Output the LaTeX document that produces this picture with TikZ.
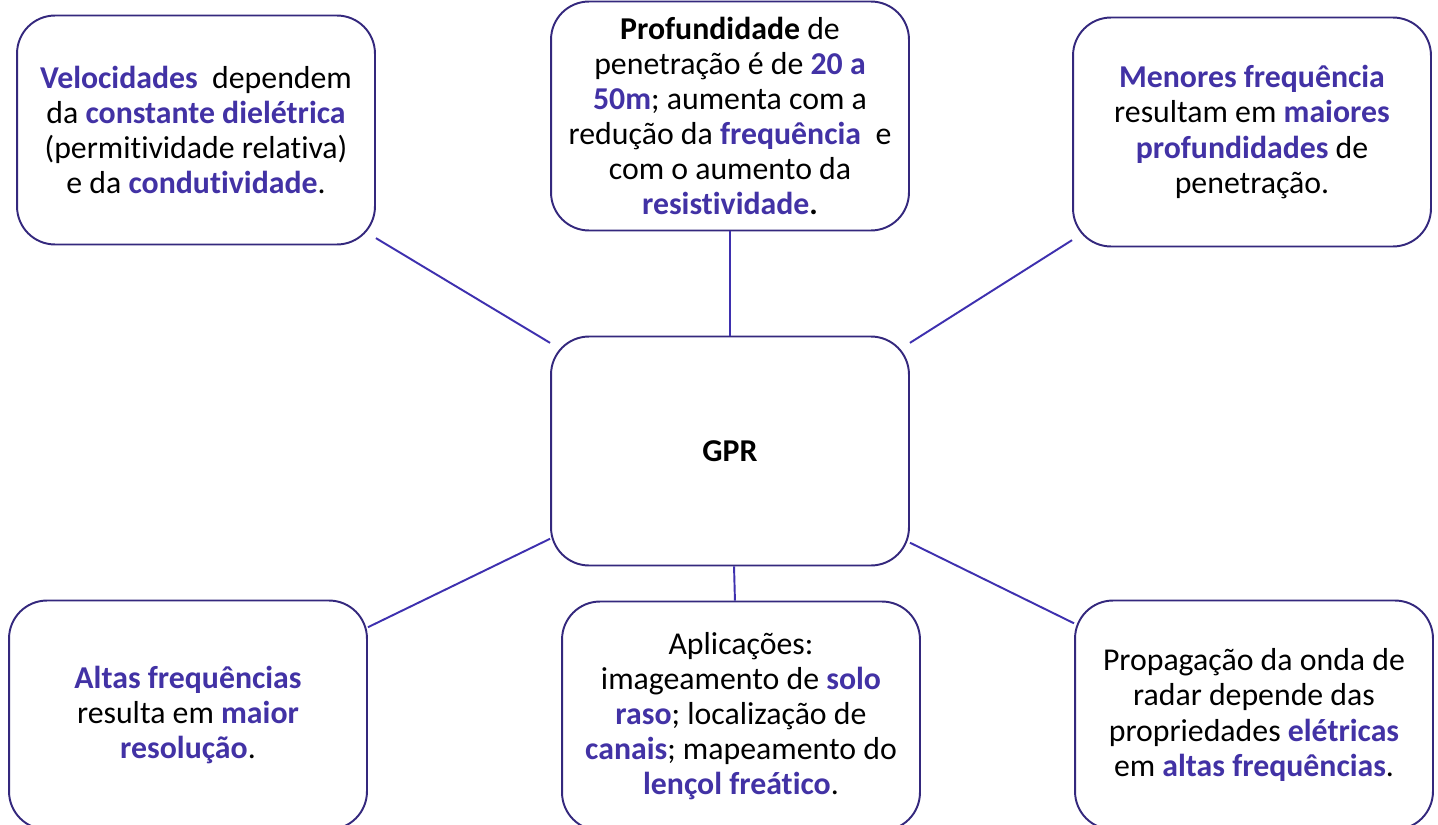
\documentclass[tikz,border=0pt]{standalone}
\usepackage{fontspec}
\setmainfont{Carlito}[Ligatures=NoCommon]
\usetikzlibrary{positioning}

\definecolor{gprpurple}{RGB}{66,50,165}
\definecolor{gprborder}{RGB}{52,40,125}
\definecolor{gprline}{RGB}{62,48,175}
\newcommand{\hlt}[1]{\textbf{\textcolor{gprpurple}{#1}}}

\begin{document}
\begin{tikzpicture}[
  x=0.02cm, y=-0.02cm,
  info/.style={draw=gprborder, line width=1.1pt, rounded corners=0.76cm, fill=white, minimum width=7.16cm, minimum height=4.58cm, align=center, font=\fontsize{18.1}{20}\selectfont},
  hub/.style={info, font=\fontsize{18.1}{20}\selectfont\bfseries},
  link/.style={draw=gprline, line width=1.1pt},
]
\useasboundingbox[fill=white] (0,0) rectangle (1438,825);

% Central node
\node[hub] (gpr) at (730,451) {GPR};

% Top row
\node[info] (vel)  at (196,130)  {\hlt{Velocidades}~ dependem\\da \hlt{constante dielétrica}\\(permitividade relativa)\\e da \hlt{condutividade}.};
\node[info] (prof) at (730,116)  {\textbf{Profundidade} de\\penetração é de \hlt{20 a}\\\hlt{50m}; aumenta com a\\redução da \hlt{frequência}~ e\\com o aumento da\\\hlt{resistividade}\textbf{.}};
\node[info] (menf) at (1252,132) {\hlt{Menores frequência}\\resultam em \hlt{maiores}\\\hlt{profundidades} de\\penetração.};

% Bottom row
\node[info] (altf) at (188,715)  {\hlt{Altas frequências}\\resulta em \hlt{maior}\\\hlt{resolução}.};
\node[info] (apl)  at (741,716)  {Aplicações:\\imageamento de \hlt{solo}\\\hlt{raso}; localização de\\\hlt{canais}; mapeamento do\\\hlt{lençol freático}.};
\node[info] (prop) at (1254,715) {Propagação da onda de\\radar depende das\\propriedades \hlt{elétricas}\\em \hlt{altas frequências}.};

% Connectors
\draw[link] (vel.-31)   -- (gpr.149);
\draw[link] (prof.south) -- (gpr.north);
\draw[link] (menf.211)  -- (gpr.31);
\draw[link] (altf.26)   -- (gpr.206);
\draw[link] (apl.93)    -- (gpr.-88);
\draw[link] (prop.153)  -- (gpr.-27);

\end{tikzpicture}
\end{document}
